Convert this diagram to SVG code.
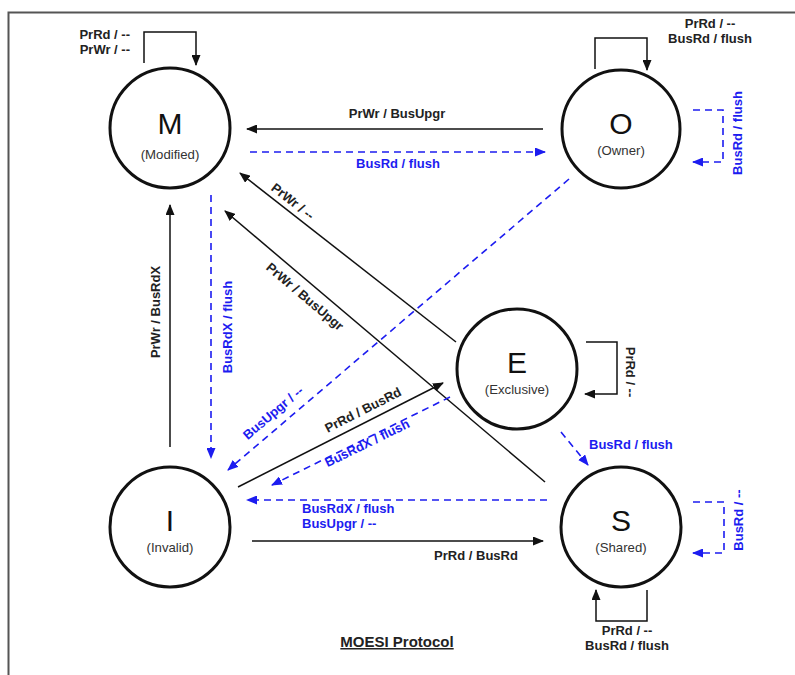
<svg xmlns="http://www.w3.org/2000/svg" width="795" height="675" viewBox="0 0 795 675">
  <defs>
    <marker id="arrow-black" markerUnits="userSpaceOnUse" markerWidth="11" markerHeight="9" refX="10" refY="4.5" orient="auto">
      <path d="M0,0 L11,4.5 L0,9 z" fill="#111"/>
    </marker>
    <marker id="arrow-blue" markerUnits="userSpaceOnUse" markerWidth="11" markerHeight="9" refX="10" refY="4.5" orient="auto">
      <path d="M0,0 L11,4.5 L0,9 z" fill="#1c1cf0"/>
    </marker>
    <style>
      .frame { fill: none; stroke: #555; stroke-width: 2; }
      .state { fill: #fff; stroke: #111; stroke-width: 3; }
      .letter { font-family: "Liberation Sans", Arial, sans-serif; font-size: 30px; fill: #111; text-anchor: middle; }
      .sub { font-family: "Liberation Sans", Arial, sans-serif; font-size: 13.2px; fill: #333; text-anchor: middle; }
      .cpu { fill: none; stroke: #111; stroke-width: 1.5; marker-end: url(#arrow-black); }
      .bus { fill: none; stroke: #1c1cf0; stroke-width: 1.6; stroke-dasharray: 7 5; marker-end: url(#arrow-blue); }
      .lbl { font-family: "Liberation Sans", Arial, sans-serif; font-size: 13px; font-weight: bold; fill: #222; }
      .lbl.b { fill: #1c1cf0; }
      .mid { text-anchor: middle; }
      .end { text-anchor: end; }
      .title { font-family: "Liberation Sans", Arial, sans-serif; font-size: 15px; font-weight: bold; fill: #222; text-anchor: middle; text-decoration: underline; }
    </style>
  </defs>

  <rect width="795" height="675" fill="#fff"/>
  <path class="frame" d="M8.5,675 V12.5 H795"/>

  <!-- transitions -->
  <g id="connectors">
    <!-- self loops -->
    <path class="cpu" d="M144,63 V32 H196 V65"/>
    <path class="cpu" d="M595,69 V38 H647 V70"/>
    <path class="bus" d="M693,110 H723 V162 H693"/>
    <path class="cpu" d="M586,342 H617 V394 H585"/>
    <path class="bus" d="M693,502 H724 V553 H693"/>
    <path class="cpu" d="M647,590 V621 H596 V590"/>

    <!-- M / O -->
    <path class="cpu" d="M543,129 H247"/>
    <path class="bus" d="M250,152 H545"/>

    <!-- M / I -->
    <path class="cpu" d="M170,447 V205"/>
    <path class="bus" d="M211,195 V458"/>

    <!-- into M from E and S -->
    <path class="cpu" d="M456,342 L240,173"/>
    <path class="cpu" d="M545,482 L225,211"/>

    <!-- O to I -->
    <path class="bus" d="M569,179 L228,470"/>

    <!-- I / E -->
    <path class="cpu" d="M238,487 L443,383"/>
    <path class="bus" d="M450,397 L272,485"/>

    <!-- I / S -->
    <path class="bus" d="M547,500 H247"/>
    <path class="cpu" d="M252,541 H543"/>

    <!-- E to S -->
    <path class="bus" d="M561,432 L588,465"/>
  </g>

  <!-- transition labels -->
  <g id="labels">
    <text class="lbl end" x="130" y="39">PrRd / --</text>
    <text class="lbl end" x="130" y="54">PrWr / --</text>

    <text class="lbl mid" x="710" y="28">PrRd / --</text>
    <text class="lbl mid" x="710" y="43">BusRd / flush</text>
    <text class="lbl b mid" transform="translate(742,133) rotate(-90)">BusRd / flush</text>

    <text class="lbl mid" x="397" y="118">PrWr / BusUpgr</text>
    <text class="lbl b mid" x="398" y="168">BusRd / flush</text>

    <text class="lbl mid" transform="translate(160,312) rotate(-90)">PrWr / BusRdX</text>
    <text class="lbl b mid" transform="translate(232,327) rotate(-90)">BusRdX / flush</text>

    <text class="lbl mid" transform="translate(290,205) rotate(38)">PrWr / --</text>
    <text class="lbl mid" transform="translate(302,300) rotate(40.3)">PrWr / BusUpgr</text>

    <text class="lbl b mid" transform="translate(276,416) rotate(-40.5)">BusUpgr / --</text>
    <text class="lbl mid" transform="translate(365,414) rotate(-27)">PrRd / BusRd</text>
    <text class="lbl b mid" transform="translate(369,447) rotate(-26)">BusRdX / flush</text>

    <text class="lbl b" x="302" y="513">BusRdX / flush</text>
    <text class="lbl b" x="302" y="528">BusUpgr / --</text>
    <text class="lbl mid" x="476" y="560">PrRd / BusRd</text>

    <text class="lbl mid" transform="translate(626,372) rotate(90)">PrRd / --</text>
    <text class="lbl b" x="589" y="449">BusRd / flush</text>
    <text class="lbl b mid" transform="translate(743,520) rotate(-90)">BusRd / --</text>

    <text class="lbl mid" x="627" y="635">PrRd / --</text>
    <text class="lbl mid" x="627" y="650">BusRd / flush</text>
  </g>

  <!-- states -->
  <g id="state-M">
    <circle class="state" cx="170" cy="128" r="60"/>
    <text class="letter" x="170" y="134">M</text>
    <text class="sub" x="170" y="159">(Modified)</text>
  </g>
  <g id="state-O">
    <circle class="state" cx="621" cy="129" r="59"/>
    <text class="letter" x="621" y="134">O</text>
    <text class="sub" x="621" y="155">(Owner)</text>
  </g>
  <g id="state-E">
    <circle class="state" cx="517" cy="369" r="60"/>
    <text class="letter" x="517" y="373">E</text>
    <text class="sub" x="517" y="394">(Exclusive)</text>
  </g>
  <g id="state-I">
    <circle class="state" cx="170" cy="527" r="60"/>
    <text class="letter" x="170" y="531">I</text>
    <text class="sub" x="170" y="552">(Invalid)</text>
  </g>
  <g id="state-S">
    <circle class="state" cx="621" cy="527" r="60"/>
    <text class="letter" x="621" y="531">S</text>
    <text class="sub" x="621" y="552">(Shared)</text>
  </g>

  <text class="title" x="397" y="647">MOESI Protocol</text>
</svg>
